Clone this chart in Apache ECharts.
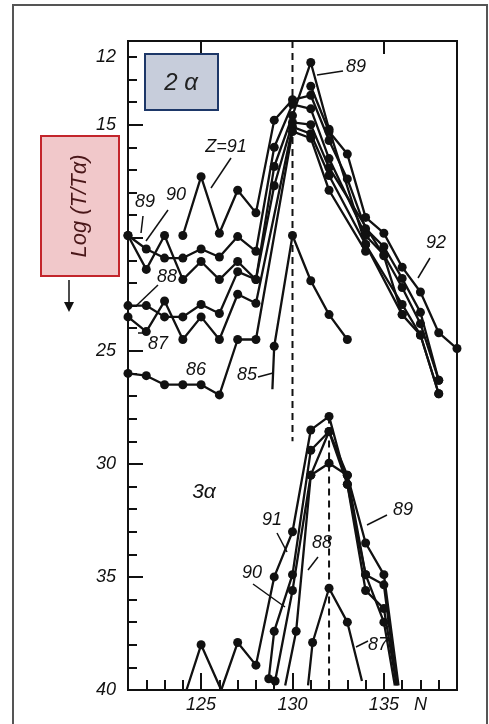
<!DOCTYPE html>
<html>
<head>
<meta charset="utf-8">
<script src="https://cdn.jsdelivr.net/npm/echarts@6/dist/echarts.min.js"></script>
<style>
html, body { margin: 0; padding: 0; background: #fff; }
#chart { width: 489px; height: 724px; }
</style>
</head>
<body>
<div id="chart"></div>
<script>
// points are [N, log(T/Ta)]; a third value 0 means the line ends there without a dot
var z91_2a = [[124,19.9],[125,17.3],[126,19.8],[127,17.9],[128,18.9],[129,14.8],[130,13.9],[131,13.7],[132,15.7],[133,17.4],[134,19.6],[135,20.4],[136,21.8],[137,23.3],[138,26.3]];
var z90_2a = [[121,19.9],[122,20.5],[123,20.9],[124,20.9],[125,20.5],[126,20.85],[127,19.95],[128,20.6],[129,16.0],[130,14.1],[131,14.3],[132,16.5],[134,19.9],[135,20.75],[136,22.2],[137,23.8],[138,26.3]];
var z89_2a = [[121,19.9],[122,21.4],[123,19.9],[124,21.85],[125,21.05],[126,21.85],[127,21.05],[128,21.85],[129,16.85],[130,14.6],[131,12.25],[132,15.2],[134,20.3],[136,22.95],[137,24.3],[138,26.9]];
var z88_2a = [[121,23.0],[122,23.0],[123,23.5],[124,23.5],[125,22.95],[126,23.35],[127,21.5],[128,21.85],[129,17.7],[130,14.9],[131,15.0],[132,16.9],[135,20.8],[136,23.4],[137,24.3],[138,26.9]];
var z87_2a = [[121,23.5],[122,24.15],[123,22.8],[124,24.5],[125,23.5],[126,24.5],[127,22.5],[128,22.9],[130,15.1],[131,15.4],[132,17.25],[134,20.3],[136,23.4]];
var z86_2a = [[121,26.0],[122,26.1],[123,26.5],[124,26.5],[125,26.5],[126,26.95],[127,24.5],[128,24.5],[130,15.3],[131,15.6],[132,17.9],[134,20.6]];
var z85_2a = [[128.9,26.7,0],[129,24.8],[130,19.9],[131,21.9],[132,23.4],[133,24.5]];
var z92_2a = [[131,13.3],[132,15.3],[133,16.3],[134,19.1],[135,19.8],[136,21.3],[137,22.4],[138,24.2],[139,24.9]];

var z91_3a = [[124.2,40,0],[125,38.0],[126.1,40,0],[127,37.9],[128,38.9],[129,35.0],[130,33.0],[131,28.5],[132,27.9],[133,30.9],[134,34.9],[135,35.35],[135.7,39.8,0]];
var z89_3a = [[128.7,39.5],[129,37.4],[130,34.9],[131,29.4],[132,28.57],[133,30.5],[134,33.5],[135,34.9],[135.8,39.8,0]];
var z90_3a = [[129.05,39.6],[130,35.6],[131,30.5],[132,28.57],[133,30.9],[134,35.6],[135,36.4],[135.7,39.8,0]];
var z88_3a = [[129.6,39.8,0],[130.2,37.4],[131,30.5],[132,29.97],[133,30.5],[134,34.9],[135,37.0],[135.6,39.8,0]];
var z87_3a = [[130.85,39.8,0],[131.1,37.9],[132,35.5],[133,37.0],[133.8,39.6,0]];

var dash130 = [[130,11.3],[130,29.0]];
var dash132 = [[132,27.9],[132,40]];

var xTicks = [122,123,124,125,126,127,128,129,130,131,132,133,134,135,136,137,138];
var xMajor = [125,130,135];
var xLabels = [125,130,135,137];
var yTicks = [12,13,14,15,16,17,18,19,20,21,22,23,24,25,26,27,28,29,30,31,32,33,34,35,36,37,38,39];
var yMajor = [15,20,25,30,35,40];
var yLabels = [12,15,20,25,30,35,40];

var INK = '#111';
var FONT = 'Liberation Sans';

function curve(pts) {
  return {
    type: 'line',
    data: pts.map(function (p) {
      return p[2] === 0 ? { value: [p[0], p[1]], symbol: 'none' } : [p[0], p[1]];
    }),
    symbol: 'circle',
    symbolSize: 9,
    lineStyle: { color: INK, width: 2.3 },
    itemStyle: { color: INK },
    emphasis: { disabled: true },
    animation: false,
    z: 3
  };
}

function dashed(pts) {
  return {
    type: 'line',
    data: pts,
    symbol: 'none',
    lineStyle: { color: INK, width: 2, type: [7, 5] },
    animation: false,
    z: 2
  };
}

var chart = echarts.init(document.getElementById('chart'));

var texts = [
  ['Z=91', 226, 147], ['89', 145, 202], ['90', 176, 195], ['88', 167, 277],
  ['87', 158, 344], ['86', 196, 370], ['85', 247, 375], ['89', 356, 67],
  ['92', 436, 243], ['91', 272, 520], ['90', 252, 573], ['88', 322, 543],
  ['89', 403, 510], ['87', 378, 645]
];
var leaders = [
  [231, 158, 211, 188], [143, 216, 141, 233], [168, 210, 146, 241],
  [158, 285, 136, 306], [146, 333, 138, 333], [258, 377, 273, 373],
  [343, 71, 317, 75], [430, 258, 418, 278], [277, 533, 287, 552],
  [253, 584, 285, 607], [318, 557, 308, 570], [387, 515, 367, 525],
  [368, 641, 356, 647]
];

var graphics = [
  // scan frame
  { type: 'polyline', shape: { points: [[13, 724], [13, 5], [487, 5], [487, 724]] },
    style: { stroke: '#555', lineWidth: 2, fill: null }, silent: true },
  // 2 alpha box
  { type: 'rect', shape: { x: 145, y: 54, width: 73, height: 56 },
    style: { fill: '#c7cddb', stroke: '#1d3768', lineWidth: 2 }, z: 10 },
  { type: 'text', x: 181, y: 83, z: 11,
    style: { text: '2 α', fontFamily: FONT, fontStyle: 'italic', fontSize: 24, fill: '#222',
      textAlign: 'center', textVerticalAlign: 'middle' } },
  // y axis title box
  { type: 'rect', shape: { x: 41, y: 136, width: 78, height: 140 },
    style: { fill: '#f1c8ca', stroke: '#c3252b', lineWidth: 2 }, z: 10 },
  { type: 'text', x: 80, y: 206, rotation: Math.PI / 2, z: 11,
    style: { text: 'Log (T/Tα)', fontFamily: FONT, fontStyle: 'italic', fontSize: 22, fill: '#4a1719',
      textAlign: 'center', textVerticalAlign: 'middle' } },
  // arrow
  { type: 'line', shape: { x1: 69, y1: 280, x2: 69, y2: 304 }, style: { stroke: INK, lineWidth: 1.5 } },
  { type: 'polygon', shape: { points: [[64, 302], [74, 302], [69, 312]] }, style: { fill: INK } },
  { type: 'text', x: 204, y: 492,
    style: { text: '3α', fontFamily: FONT, fontStyle: 'italic', fontSize: 21, fill: INK,
      textAlign: 'center', textVerticalAlign: 'middle' } }
];
texts.forEach(function (t) {
  graphics.push({ type: 'text', x: t[1], y: t[2], z: 12,
    style: { text: t[0], fontFamily: FONT, fontStyle: 'italic', fontSize: 18, fill: INK,
      textAlign: 'center', textVerticalAlign: 'middle' } });
});
leaders.forEach(function (l) {
  graphics.push({ type: 'line', shape: { x1: l[0], y1: l[1], x2: l[2], y2: l[3] },
    style: { stroke: INK, lineWidth: 1.5 }, z: 12 });
});

var option = {
  backgroundColor: '#fff',
  animation: false,
  grid: { left: 128, top: 41, width: 329, height: 649, show: true, borderColor: INK, borderWidth: 2 },
  xAxis: [{
    type: 'value', position: 'bottom', min: 121, max: 139,
    axisLine: { show: true, onZero: false, lineStyle: { color: INK, width: 2 } },
    axisTick: { show: true, inside: true, length: 10, customValues: xTicks, lineStyle: { color: INK, width: 2 } },
    axisLabel: { show: true, customValues: xLabels, margin: 6,
      fontFamily: FONT, fontStyle: 'italic', fontSize: 18, color: INK,
      formatter: function (v) { return v === 137 ? 'N' : String(v); } },
    splitLine: { show: false }
  }, {
    type: 'value', position: 'bottom', min: 121, max: 139,
    axisLine: { show: false },
    axisTick: { show: true, inside: true, length: 17, customValues: xMajor, lineStyle: { color: INK, width: 2 } },
    axisLabel: { show: false },
    splitLine: { show: false }
  }, {
    type: 'value', position: 'top', min: 121, max: 139,
    axisLine: { show: true, onZero: false, lineStyle: { color: INK, width: 2 } },
    axisTick: { show: true, inside: true, length: 13, customValues: [125, 135], lineStyle: { color: INK, width: 2 } },
    axisLabel: { show: false },
    splitLine: { show: false }
  }],
  yAxis: [{
    type: 'value', position: 'left', inverse: true, min: 11.3, max: 40,
    axisLine: { show: true, onZero: false, lineStyle: { color: INK, width: 2 } },
    axisTick: { show: true, inside: true, length: 9, customValues: yTicks, lineStyle: { color: INK, width: 2 } },
    axisLabel: { show: true, customValues: yLabels, margin: 12,
      fontFamily: FONT, fontStyle: 'italic', fontSize: 18, color: INK },
    splitLine: { show: false }
  }, {
    type: 'value', position: 'left', inverse: true, min: 11.3, max: 40,
    axisLine: { show: false },
    axisTick: { show: true, inside: true, length: 15, customValues: yMajor, lineStyle: { color: INK, width: 2 } },
    axisLabel: { show: false },
    splitLine: { show: false }
  }],
  series: [
    dashed(dash130), dashed(dash132),
    curve(z91_2a), curve(z90_2a), curve(z89_2a), curve(z88_2a),
    curve(z87_2a), curve(z86_2a), curve(z85_2a), curve(z92_2a),
    curve(z91_3a), curve(z89_3a), curve(z90_3a), curve(z88_3a), curve(z87_3a)
  ],
  graphic: graphics
};

chart.setOption(option);
</script>
</body>
</html>
